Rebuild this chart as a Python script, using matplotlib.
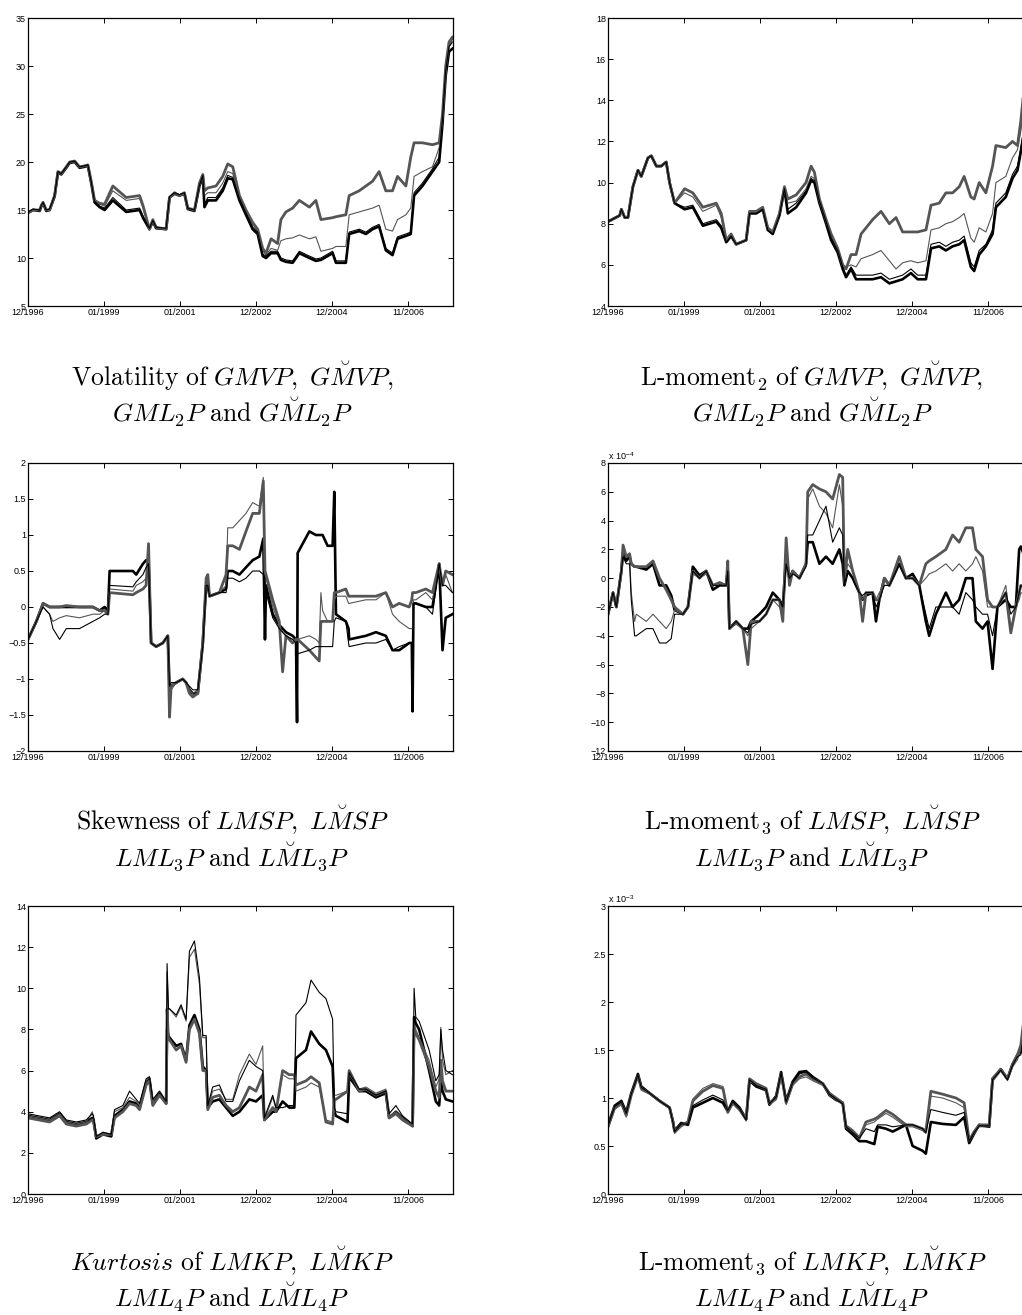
import matplotlib
matplotlib.use("Agg")
import matplotlib.pyplot as plt
from matplotlib.ticker import FuncFormatter

plt.rcParams['mathtext.fontset'] = 'cm'
plt.rcParams['font.family'] = ['Liberation Sans', 'DejaVu Sans']

# x axis: trading-day index, labelled with dates every 500 days
x_max = 2796
x_ticks = [0, 500, 1000, 1500, 2000, 2500]
x_labels = ['12/1996', '01/1999', '01/2001', '12/2002', '12/2004', '11/2006']

# ---- Panel 1: volatility -------------------------------------------------
vol_x = [0, 33, 77, 88, 99, 120, 142, 175, 197, 219, 252, 274, 307, 339, 372,
         394, 416, 438, 471, 504, 558, 646, 734, 756, 799, 821, 843, 909, 931, 964,
         996, 1029, 1051, 1095, 1128, 1150, 1161, 1183, 1237, 1281, 1314, 1347, 1391, 1434, 1478,
         1511, 1544, 1566, 1599, 1642, 1664, 1697, 1741, 1785, 1851, 1894, 1927, 2004, 2026, 2091,
         2113, 2179, 2223, 2267, 2310, 2354, 2398, 2431, 2486, 2518, 2540, 2595, 2661, 2705, 2727,
         2748, 2770, 2792]
vol_thick_black = [14.7, 15.0, 14.9, 15.4, 15.7, 14.9, 15.0, 16.4, 18.9, 18.7, 19.4, 19.9, 20.0, 19.4, 19.5,
                   19.6, 17.8, 15.8, 15.3, 15.0, 16.0, 14.8, 15.0, 14.2, 13.0, 13.8, 13.1, 13.0, 16.3, 16.7,
                   16.5, 16.7, 15.1, 14.9, 17.5, 18.5, 15.3, 16.0, 16.0, 17.0, 18.3, 18.2, 16.0, 14.5, 13.0,
                   12.5, 10.2, 10.0, 10.5, 10.5, 9.8, 9.6, 9.5, 10.5, 10.0, 9.7, 9.8, 10.5, 9.5, 9.5,
                   12.5, 12.8, 12.5, 13.0, 13.3, 10.8, 10.3, 12.0, 12.3, 12.5, 16.5, 17.5, 19.0, 20.0, 24.0,
                   29.0, 31.5, 31.8]
vol_thin_black = [14.8, 15.1, 15.0, 15.5, 15.8, 15.0, 15.1, 16.5, 19.0, 18.8, 19.5, 20.0, 20.1, 19.5, 19.6,
                  19.7, 17.9, 15.9, 15.4, 15.2, 16.3, 15.0, 15.2, 14.4, 13.1, 13.9, 13.2, 13.1, 16.4, 16.8,
                  16.6, 16.8, 15.2, 15.0, 17.6, 18.6, 15.6, 16.3, 16.3, 17.3, 18.6, 18.4, 16.2, 14.7, 13.2,
                  12.7, 10.4, 10.2, 10.7, 10.7, 10.0, 9.8, 9.7, 10.7, 10.2, 9.9, 10.0, 10.7, 9.7, 9.7,
                  12.7, 13.0, 12.7, 13.2, 13.5, 11.0, 10.5, 12.2, 12.5, 12.7, 16.8, 17.8, 19.3, 20.5, 24.5,
                  29.5, 32.0, 32.5]
vol_thick_gray = [14.7, 15.0, 15.0, 15.5, 15.8, 15.0, 15.0, 16.5, 19.0, 18.8, 19.5, 20.0, 20.1, 19.5, 19.6,
                  19.7, 18.0, 16.0, 15.7, 15.6, 17.5, 16.3, 16.5, 15.5, 13.0, 14.0, 13.2, 13.0, 16.3, 16.8,
                  16.5, 16.8, 15.2, 15.0, 17.8, 18.7, 17.0, 17.3, 17.5, 18.5, 19.8, 19.5, 16.5, 15.0, 13.7,
                  13.0, 11.0, 10.5, 12.0, 11.5, 14.0, 14.8, 15.2, 16.0, 15.3, 16.0, 14.0, 14.2, 14.3, 14.5,
                  16.5, 17.0, 17.5, 18.0, 19.0, 17.0, 17.0, 18.5, 17.5, 20.5, 22.0, 22.0, 21.8, 22.0, 25.0,
                  30.0, 32.5, 33.0]
vol_thin_gray = [14.7, 15.0, 15.0, 15.5, 15.8, 15.0, 15.0, 16.5, 19.0, 18.8, 19.5, 20.0, 20.1, 19.5, 19.6,
                 19.7, 18.0, 16.0, 15.6, 15.4, 17.0, 16.0, 16.2, 15.2, 13.0, 13.9, 13.2, 13.0, 16.3, 16.8,
                 16.5, 16.8, 15.2, 15.0, 17.6, 18.6, 16.5, 16.8, 16.8, 17.8, 19.0, 18.8, 16.2, 14.8, 13.5,
                 12.8, 10.8, 10.3, 11.0, 10.8, 11.8, 12.0, 12.1, 12.4, 12.0, 12.2, 10.7, 11.0, 11.2, 11.2,
                 14.5, 14.8, 15.0, 15.2, 15.5, 13.0, 12.8, 14.0, 14.5, 15.2, 18.5, 19.0, 19.5, 21.5, 24.5,
                 29.5, 32.0, 32.8]

# ---- Panel 2: L-moment 2 -------------------------------------------------
lm2_x = [0, 77, 88, 110, 131, 164, 197, 219, 263, 285, 318, 350, 383, 405, 438,
         504, 558, 624, 712, 745, 778, 810, 843, 909, 931, 975, 1018, 1051, 1084, 1128,
         1161, 1183, 1238, 1303, 1336, 1358, 1391, 1435, 1468, 1511, 1544, 1566, 1599, 1632, 1665,
         1741, 1796, 1851, 1895, 1938, 1993, 2037, 2092, 2125, 2179, 2223, 2267, 2311, 2343, 2387,
         2409, 2442, 2486, 2530, 2552, 2617, 2661, 2694, 2716, 2749, 2792]
lm2_thick_black = [8.1, 8.4, 8.7, 8.3, 8.3, 9.8, 10.6, 10.3, 11.2, 11.3, 10.8, 10.8, 11.0, 10.0, 9.0,
                   8.7, 8.8, 7.9, 8.1, 7.8, 7.1, 7.4, 7.0, 7.2, 8.5, 8.5, 8.7, 7.7, 7.5, 8.4,
                   9.7, 8.5, 8.8, 9.5, 10.1, 10.0, 9.0, 8.0, 7.2, 6.6, 5.8, 5.4, 5.8, 5.3, 5.3,
                   5.3, 5.4, 5.1, 5.2, 5.3, 5.6, 5.3, 5.3, 6.8, 6.9, 6.7, 6.9, 7.0, 7.2, 5.9,
                   5.7, 6.5, 6.9, 7.5, 8.8, 9.3, 10.2, 10.6, 11.5, 13.0, 14.0]
lm2_thin_black = [8.1, 8.4, 8.7, 8.3, 8.3, 9.8, 10.6, 10.3, 11.2, 11.3, 10.8, 10.8, 11.0, 10.0, 9.0,
                  8.8, 8.9, 8.0, 8.2, 7.9, 7.1, 7.4, 7.0, 7.2, 8.5, 8.5, 8.7, 7.7, 7.5, 8.4,
                  9.7, 8.7, 9.0, 9.6, 10.2, 10.1, 9.1, 8.1, 7.3, 6.7, 5.9, 5.5, 5.9, 5.5, 5.5,
                  5.5, 5.6, 5.3, 5.4, 5.5, 5.8, 5.5, 5.5, 7.0, 7.1, 6.9, 7.1, 7.2, 7.4, 6.1,
                  5.9, 6.7, 7.0, 7.7, 9.0, 9.5, 10.4, 10.8, 11.7, 13.2, 14.2]
lm2_thick_gray = [8.1, 8.4, 8.7, 8.3, 8.3, 9.8, 10.6, 10.3, 11.2, 11.3, 10.8, 10.8, 11.0, 10.0, 9.0,
                  9.7, 9.5, 8.8, 9.0, 8.5, 7.2, 7.5, 7.0, 7.2, 8.6, 8.6, 8.8, 7.8, 7.6, 8.5,
                  9.8, 9.2, 9.4, 10.0, 10.8, 10.5, 9.2, 8.2, 7.5, 6.8, 6.0, 5.8, 6.5, 6.5, 7.5,
                  8.2, 8.6, 8.0, 8.3, 7.6, 7.6, 7.6, 7.7, 8.9, 9.0, 9.5, 9.5, 9.8, 10.3, 9.3,
                  9.2, 10.0, 9.5, 10.8, 11.8, 11.7, 12.0, 11.8, 13.0, 15.5, 17.5]
lm2_thin_gray = [8.1, 8.4, 8.7, 8.3, 8.3, 9.8, 10.6, 10.3, 11.2, 11.3, 10.8, 10.8, 11.0, 10.0, 9.0,
                 9.5, 9.3, 8.6, 8.9, 8.3, 7.2, 7.5, 7.0, 7.2, 8.6, 8.6, 8.8, 7.8, 7.6, 8.5,
                 9.8, 9.0, 9.1, 9.7, 10.3, 10.2, 9.1, 8.1, 7.4, 6.7, 6.0, 5.9, 6.0, 5.9, 6.3,
                 6.5, 6.7, 6.2, 5.8, 6.1, 6.2, 6.1, 6.2, 7.7, 7.8, 8.0, 8.1, 8.3, 8.5, 7.3,
                 7.1, 7.8, 7.6, 8.5, 10.0, 10.3, 11.2, 11.6, 12.5, 14.5, 16.0]

# ---- Panel 3: skewness ---------------------------------------------------
skew_x = [0, 33, 55, 99, 142, 164, 208, 252, 339, 427, 471, 504, 526, 537, 690,
          712, 756, 777, 793, 810, 843, 887, 920, 931, 942, 975, 1018, 1040, 1062, 1084,
          1117, 1150, 1172, 1183, 1194, 1259, 1303, 1314, 1347, 1391, 1434, 1478, 1522, 1548, 1559,
          1566, 1610, 1653, 1675, 1697, 1741, 1763, 1770, 1774, 1851, 1894, 1916, 1927, 1938, 1971,
          2004, 2015, 2026, 2091, 2109, 2113, 2223, 2289, 2354, 2398, 2442, 2508, 2525, 2530, 2536,
          2552, 2617, 2661, 2705, 2727, 2748, 2792]
skew_thick_black = [-0.45, -0.3, -0.2, 0.05, 0.0, 0.0, 0.0, 0.0, 0.0, 0.0, -0.05, 0.0, -0.05, 0.5, 0.5,
                    0.45, 0.6, 0.65, 0.65, -0.5, -0.55, -0.5, -0.4, -1.1, -1.1, -1.05, -1.0, -1.05, -1.15, -1.2,
                    -1.2, -0.5, 0.3, 0.3, 0.15, 0.2, 0.25, 0.5, 0.5, 0.45, 0.55, 0.65, 0.7, 0.95, -0.45,
                    0.3, -0.1, -0.25, -0.3, -0.35, -0.4, -0.45, -1.6, 0.75, 1.05, 1.0, 1.0, 1.0, 1.0, 0.85,
                    0.85, 1.6, -0.1, -0.2, -0.3, -0.45, -0.4, -0.35, -0.4, -0.6, -0.6, -0.5, -0.5, -1.45, 0.05,
                    0.05, 0.0, 0.0, 0.6, -0.6, -0.15, -0.1]
skew_thin_black = [-0.45, -0.3, -0.2, 0.0, -0.1, -0.3, -0.45, -0.3, -0.3, -0.2, -0.15, -0.1, -0.1, 0.3, 0.28,
                   0.35, 0.45, 0.55, 0.6, -0.5, -0.55, -0.5, -0.4, -1.1, -1.05, -1.05, -1.0, -1.05, -1.1, -1.15,
                   -1.15, -0.55, 0.3, 0.3, 0.15, 0.2, 0.2, 0.4, 0.4, 0.35, 0.4, 0.5, 0.5, 0.45, 0.4,
                   0.2, -0.15, -0.3, -0.35, -0.4, -0.45, -0.5, -0.55, -0.65, -0.6, -0.55, -0.55, -0.55, -0.55, -0.55,
                   -0.55, -0.2, -0.15, -0.2, -0.5, -0.55, -0.5, -0.5, -0.45, -0.6, -0.55, -0.5, -0.5, -0.5, 0.05,
                   0.05, 0.0, -0.1, 0.6, 0.3, 0.3, 0.2]
skew_thick_gray = [-0.45, -0.3, -0.2, 0.05, 0.0, 0.0, 0.0, 0.02, 0.0, 0.0, -0.05, -0.05, -0.1, 0.2, 0.17,
                   0.2, 0.25, 0.3, 0.88, -0.5, -0.55, -0.5, -0.4, -1.53, -1.1, -1.05, -1.0, -1.05, -1.2, -1.25,
                   -1.2, -0.5, 0.4, 0.45, 0.15, 0.2, 0.45, 0.85, 0.85, 0.8, 1.05, 1.3, 1.3, 1.75, 0.5,
                   0.45, 0.1, -0.2, -0.9, -0.4, -0.5, -0.45, -0.45, -0.45, -0.6, -0.7, -0.75, -0.2, -0.2, -0.2,
                   -0.2, 0.2, 0.2, 0.25, 0.15, 0.15, 0.15, 0.15, 0.2, 0.0, 0.05, 0.0, 0.1, 0.2, 0.2,
                   0.2, 0.25, 0.2, 0.6, 0.3, 0.5, 0.45]
skew_thin_gray = [-0.45, -0.3, -0.2, 0.0, -0.1, -0.2, -0.15, -0.12, -0.15, -0.1, -0.1, -0.05, -0.1, 0.25, 0.22,
                  0.3, 0.35, 0.4, 0.6, -0.5, -0.55, -0.5, -0.4, -1.4, -1.15, -1.05, -1.0, -1.05, -1.15, -1.2,
                  -1.15, -0.5, 0.35, 0.4, 0.15, 0.2, 0.3, 1.1, 1.1, 1.2, 1.3, 1.45, 1.4, 1.8, 0.45,
                  0.4, 0.0, -0.25, -0.35, -0.4, -0.45, -0.45, -0.45, -0.45, -0.4, -0.45, -0.5, 0.2, -0.05, -0.2,
                  -0.2, 0.1, 0.15, 0.15, 0.05, 0.05, 0.1, 0.1, 0.2, -0.1, -0.2, -0.3, -0.3, -0.3, 0.1,
                  0.1, 0.2, 0.1, 0.6, 0.3, 0.45, 0.2]

# ---- Panel 4: L-moment 3 (x 1e-4) ----------------------------------------
lm3_x = [0, 11, 33, 55, 88, 99, 120, 142, 153, 175, 186, 252, 296, 339, 383,
         416, 438, 493, 526, 558, 602, 646, 690, 734, 777, 788, 799, 843, 887, 920,
         942, 996, 1040, 1084, 1128, 1150, 1172, 1194, 1215, 1259, 1303, 1314, 1347, 1391, 1434,
         1478, 1522, 1544, 1555, 1577, 1610, 1653, 1675, 1697, 1741, 1763, 1785, 1818, 1851, 1916,
         1960, 2004, 2048, 2091, 2113, 2157, 2223, 2267, 2310, 2354, 2398, 2420, 2464, 2497, 2530,
         2562, 2617, 2650, 2683, 2705, 2716, 2792]
lm3_thick_black = [-2.5, -2.0, -1.0, -2.0, 0.5, 1.8, 1.2, 1.5, 1.0, 0.8, 0.8, 0.6, 1.0, -0.5, -0.5,
                   -1.2, -2.2, -2.5, -2.0, 0.8, 0.2, 0.5, -0.8, -0.5, -0.5, 0.5, -3.5, -3.0, -3.5, -3.5,
                   -3.0, -2.5, -2.0, -1.0, -1.5, -2.0, 1.5, 0.0, 0.5, 0.0, 1.0, 2.5, 2.5, 1.0, 1.5,
                   1.0, 2.0, 1.0, -0.5, 0.5, 0.0, -1.0, -1.5, -1.2, -1.0, -3.0, -1.5, 0.0, -0.5, 1.0,
                   0.0, 0.3, -0.5, -3.0, -4.0, -2.5, -1.0, -2.0, -1.5, 0.0, 0.0, -3.0, -3.5, -3.0, -6.3,
                   -2.0, -1.5, -2.0, -2.0, 2.0, 2.2, 0.0]
lm3_thin_black = [-2.5, -2.0, -1.0, -2.0, 0.5, 1.5, 1.0, 1.0, -1.5, -4.0, -4.0, -3.5, -3.5, -4.5, -4.5,
                  -4.2, -2.5, -2.5, -2.0, 0.5, 0.0, 0.5, -0.5, -0.5, -0.5, 0.5, -3.5, -3.0, -3.5, -3.8,
                  -3.2, -3.0, -2.5, -1.5, -1.5, -2.0, 1.0, 0.0, 0.3, 0.0, 0.8, 3.0, 3.0, 4.0, 5.0,
                  2.5, 3.5, 3.0, -0.5, 0.5, 0.0, -1.0, -1.2, -1.0, -1.0, -2.0, -1.5, -0.5, -0.5, 1.0,
                  0.0, 0.0, -0.5, -2.5, -3.5, -2.0, -2.0, -2.0, -2.5, -1.0, -1.5, -2.0, -2.5, -2.5, -4.0,
                  -2.0, -1.0, -2.5, -2.0, -1.0, -0.5, -1.0]
lm3_thick_gray = [-2.5, -2.0, -1.0, -2.0, 0.5, 2.3, 1.5, 1.7, 1.0, 0.8, 0.8, 0.8, 1.2, 0.0, -0.8,
                  -1.5, -2.0, -2.5, -2.0, 0.5, 0.0, 0.5, -0.5, -0.3, -0.5, 1.2, -3.5, -3.0, -3.5, -6.0,
                  -3.0, -3.0, -2.5, -1.5, -1.5, -3.0, 2.8, -0.5, 0.5, 0.0, 1.0, 6.0, 6.5, 6.2, 6.0,
                  5.5, 7.2, 7.0, -0.3, 2.0, 0.5, -1.0, -3.0, -1.0, -1.0, -1.5, -1.5, 0.0, -0.5, 1.5,
                  0.0, 0.0, -0.5, 1.0, 1.2, 1.5, 2.0, 3.0, 2.5, 3.5, 3.5, 2.0, 1.5, -1.5, -2.0,
                  -2.0, -1.0, -3.8, -2.0, -1.0, -0.5, -1.0]
lm3_thin_gray = [-2.5, -2.0, -1.0, -2.0, 0.5, 2.0, 1.5, 1.5, -1.0, -3.0, -2.5, -3.0, -2.5, -3.0, -3.5,
                 -3.0, -2.2, -2.5, -2.0, 0.3, 0.0, 0.3, -0.5, -0.5, -0.5, 1.0, -3.5, -3.2, -3.5, -4.0,
                 -3.5, -3.0, -2.5, -1.5, -2.0, -2.5, 1.0, -0.5, 0.5, 0.0, 1.0, 5.5, 6.2, 5.0, 4.5,
                 3.5, 6.5, 5.0, -0.5, 1.0, 0.5, -1.0, -1.5, -1.0, -1.0, -1.5, -1.0, -0.5, -0.5, 1.0,
                 0.0, 0.0, -0.5, 0.0, 0.3, 0.5, 1.0, 0.5, 1.0, 0.5, 1.0, 1.5, 0.5, -2.0, -2.0,
                 -2.0, -0.5, -3.5, -2.0, -1.5, -1.0, -1.5]

# ---- Panel 5: kurtosis ---------------------------------------------------
kurt_x = [0, 142, 208, 252, 318, 383, 423, 431, 449, 493, 548, 569, 624, 668, 712,
          734, 777, 799, 821, 865, 909, 915, 924, 931, 975, 1007, 1040, 1062, 1095, 1128,
          1150, 1172, 1183, 1215, 1259, 1303, 1347, 1391, 1456, 1500, 1544, 1555, 1610, 1632, 1675,
          1719, 1752, 1763, 1829, 1862, 1916, 1960, 2004, 2015, 2026, 2102, 2113, 2179, 2223, 2289,
          2354, 2376, 2420, 2464, 2530, 2540, 2551, 2573, 2639, 2683, 2705, 2716, 2727, 2749, 2792]
kurt_thick_black = [3.8, 3.6, 3.9, 3.5, 3.4, 3.5, 3.7, 3.6, 2.7, 2.9, 2.8, 3.8, 4.1, 4.5, 4.4,
                    4.2, 5.4, 5.6, 4.4, 4.9, 4.4, 8.0, 7.7, 7.6, 7.2, 7.3, 6.5, 8.2, 8.7, 8.0,
                    6.2, 6.0, 4.2, 4.5, 4.6, 4.2, 3.8, 4.0, 4.6, 4.5, 4.8, 3.6, 4.0, 4.0, 4.5,
                    4.2, 4.2, 6.6, 7.0, 7.9, 7.3, 7.0, 6.2, 4.0, 3.8, 3.5, 5.7, 5.0, 5.0, 4.7,
                    4.9, 3.7, 4.0, 3.7, 3.3, 8.6, 8.3, 8.0, 6.0, 4.5, 4.3, 5.5, 5.0, 4.6, 4.5]
kurt_thin_black = [3.9, 3.7, 4.0, 3.6, 3.5, 3.6, 3.9, 3.8, 2.8, 3.0, 2.9, 4.1, 4.3, 5.0, 4.6,
                   4.4, 5.6, 5.7, 4.6, 5.0, 4.5, 11.2, 9.0, 9.0, 8.7, 9.2, 8.5, 11.8, 12.3, 10.5,
                   7.7, 7.7, 4.3, 5.2, 5.3, 4.5, 4.5, 5.5, 6.5, 6.2, 6.0, 3.7, 4.8, 4.2, 4.2,
                   4.3, 4.3, 8.7, 9.3, 10.4, 9.8, 9.5, 8.5, 4.2, 4.0, 3.9, 5.9, 5.1, 5.1, 4.8,
                   5.0, 3.9, 4.3, 3.8, 3.4, 10.0, 8.6, 8.4, 7.0, 5.5, 5.8, 8.0, 7.0, 6.0, 5.8]
kurt_thick_gray = [3.7, 3.5, 3.8, 3.4, 3.3, 3.4, 3.6, 3.5, 2.8, 2.9, 2.9, 3.7, 4.0, 4.4, 4.3,
                   4.1, 5.3, 5.5, 4.3, 4.8, 4.4, 9.0, 7.5, 7.5, 7.0, 7.2, 6.4, 8.0, 8.5, 7.8,
                   6.0, 6.0, 4.1, 4.7, 4.8, 4.3, 4.0, 4.2, 5.2, 5.0, 5.8, 3.6, 4.2, 4.0, 6.0,
                   5.8, 5.8, 5.3, 5.5, 5.7, 5.4, 3.5, 3.4, 4.6, 4.6, 5.0, 6.0, 5.0, 5.1, 4.8,
                   5.0, 3.7, 3.9, 3.6, 3.3, 8.0, 7.8, 7.5, 6.2, 5.0, 4.7, 6.5, 5.5, 5.0, 5.0]
kurt_thin_gray = [3.8, 3.6, 3.9, 3.5, 3.4, 3.5, 4.0, 3.7, 2.8, 3.0, 2.9, 4.0, 4.2, 4.7, 4.5,
                  4.3, 5.5, 5.7, 4.5, 5.0, 4.5, 10.8, 9.0, 9.0, 8.6, 9.1, 8.4, 11.5, 11.9, 10.2,
                  7.6, 7.6, 4.2, 5.0, 5.1, 4.6, 4.6, 5.8, 6.8, 6.3, 7.2, 3.6, 4.7, 4.1, 5.8,
                  5.6, 5.6, 5.0, 5.2, 5.4, 5.2, 3.6, 3.5, 4.8, 4.8, 5.0, 6.0, 5.1, 5.2, 4.9,
                  5.1, 3.8, 4.0, 3.7, 3.3, 8.3, 8.0, 7.6, 6.5, 5.2, 5.6, 8.1, 6.5, 5.8, 6.0]

# ---- Panel 6: L-moment (x 1e-3) ------------------------------------------
lm4_x = [0, 44, 88, 120, 153, 197, 219, 274, 339, 405, 427, 438, 482, 526, 558,
         624, 690, 756, 788, 821, 865, 909, 931, 975, 1040, 1062, 1106, 1139, 1172, 1215,
         1259, 1303, 1347, 1413, 1457, 1500, 1544, 1566, 1610, 1653, 1697, 1752, 1774, 1829, 1873,
         1960, 2004, 2070, 2091, 2124, 2201, 2289, 2343, 2376, 2409, 2442, 2508, 2530, 2584, 2628,
         2661, 2694, 2716, 2749, 2792]
lm4_thick_black = [0.72, 0.92, 0.97, 0.85, 1.05, 1.25, 1.12, 1.05, 0.97, 0.90, 0.76, 0.66, 0.74, 0.72, 0.90,
                   0.95, 1.00, 0.95, 0.86, 0.97, 0.90, 0.78, 1.18, 1.12, 1.08, 0.93, 1.02, 1.27, 0.97, 1.17,
                   1.27, 1.28, 1.22, 1.15, 1.03, 0.98, 0.95, 0.68, 0.62, 0.55, 0.55, 0.52, 0.70, 0.68, 0.65,
                   0.72, 0.50, 0.45, 0.42, 0.75, 0.73, 0.72, 0.80, 0.53, 0.63, 0.72, 0.70, 1.20, 1.30, 1.20,
                   1.35, 1.45, 1.48, 1.90, 2.30]
lm4_thin_black = [0.71, 0.91, 0.96, 0.84, 1.04, 1.24, 1.11, 1.05, 0.97, 0.90, 0.75, 0.65, 0.73, 0.73, 0.92,
                  0.98, 1.03, 0.98, 0.87, 0.96, 0.89, 0.77, 1.19, 1.13, 1.09, 0.94, 1.01, 1.26, 0.96, 1.16,
                  1.25, 1.27, 1.21, 1.15, 1.04, 0.99, 0.94, 0.70, 0.64, 0.58, 0.68, 0.65, 0.72, 0.72, 0.70,
                  0.72, 0.72, 0.68, 0.64, 0.88, 0.85, 0.82, 0.85, 0.55, 0.64, 0.71, 0.71, 1.19, 1.29, 1.19,
                  1.34, 1.43, 1.45, 1.85, 2.20]
lm4_thick_gray = [0.70, 0.90, 0.95, 0.82, 1.03, 1.23, 1.10, 1.05, 0.97, 0.90, 0.75, 0.65, 0.72, 0.75, 0.97,
                  1.07, 1.13, 1.10, 0.85, 0.95, 0.88, 0.78, 1.20, 1.15, 1.10, 0.95, 1.00, 1.25, 0.95, 1.15,
                  1.22, 1.25, 1.20, 1.15, 1.05, 1.00, 0.95, 0.70, 0.65, 0.58, 0.75, 0.78, 0.80, 0.87, 0.83,
                  0.72, 0.72, 0.68, 0.65, 1.07, 1.04, 1.00, 0.95, 0.56, 0.65, 0.72, 0.72, 1.20, 1.30, 1.20,
                  1.35, 1.45, 1.55, 2.00, 2.40]
lm4_thin_gray = [0.68, 0.88, 0.93, 0.80, 1.02, 1.22, 1.08, 1.04, 0.96, 0.89, 0.73, 0.63, 0.70, 0.74, 0.99,
                 1.10, 1.15, 1.12, 0.86, 0.94, 0.87, 0.76, 1.18, 1.13, 1.08, 0.93, 0.98, 1.22, 0.93, 1.13,
                 1.20, 1.22, 1.18, 1.13, 1.03, 0.98, 0.93, 0.72, 0.67, 0.60, 0.72, 0.75, 0.78, 0.84, 0.80,
                 0.70, 0.70, 0.66, 0.63, 1.02, 1.00, 0.95, 0.90, 0.55, 0.63, 0.70, 0.70, 1.17, 1.28, 1.18,
                 1.32, 1.40, 1.50, 1.90, 2.30]

captions = [
    (r'$\mathrm{Volatility\ of\ }GMVP,\ G\breve{M}VP,$', r'$GML_2P\ \mathrm{and}\ G\breve{M}L_2P$'),
    (r'$\mathrm{L\text{-}moment}_2\ \mathrm{of}\ GMVP,\ G\breve{M}VP,$', r'$GML_2P\ \mathrm{and}\ G\breve{M}L_2P$'),
    (r'$\mathrm{Skewness\ of\ }LMSP,\ L\breve{M}SP$', r'$LML_3P\ \mathrm{and}\ L\breve{M}L_3P$'),
    (r'$\mathrm{L\text{-}moment}_3\ \mathrm{of}\ LMSP,\ L\breve{M}SP$', r'$LML_3P\ \mathrm{and}\ L\breve{M}L_3P$'),
    (r'$\mathit{Kurtosis}\ \mathrm{of}\ LMKP,\ L\breve{M}KP$', r'$LML_4P\ \mathrm{and}\ L\breve{M}L_4P$'),
    (r'$\mathrm{L\text{-}moment}_3\ \mathrm{of}\ LMKP,\ L\breve{M}KP$', r'$LML_4P\ \mathrm{and}\ L\breve{M}L_4P$'),
]

W, H = 1022, 1315
fig = plt.figure(figsize=(W / 100, H / 100), dpi=100)

GRAY = '#555555'


def minus_fmt(v, pos):
    s = '%g' % v
    return s.replace('-', '\u2212')


def panel(left_px, top_px, x, tb, tnb, tg, tng, ylim, ystep, expo=None):
    ax = fig.add_axes([left_px / W, 1 - (top_px + 288) / H, 425 / W, 288 / H])
    ax.plot(x, tb, color='black', lw=1.9)
    ax.plot(x, tg, color=GRAY, lw=2.0)
    ax.plot(x, tng, color=GRAY, lw=0.8)
    ax.plot(x, tnb, color='black', lw=0.8)
    ax.set_xlim(0, x_max)
    ax.set_ylim(*ylim)
    ax.set_xticks(x_ticks)
    ax.set_xticklabels(x_labels)
    yt = []
    v = ylim[0]
    while v <= ylim[1] + 1e-9:
        yt.append(round(v, 6))
        v += ystep
    ax.set_yticks(yt)
    ax.yaxis.set_major_formatter(FuncFormatter(minus_fmt))
    ax.tick_params(direction='in', length=3.5, width=0.7, labelsize=6.5,
                   top=True, right=True, pad=1.5)
    for s in ax.spines.values():
        s.set_linewidth(0.9)
    if expo is not None:
        ax.text(0.0, 1.005, 'x 10$^{\\mathregular{%d}}$' % expo, transform=ax.transAxes,
                fontsize=6.5, ha='left', va='bottom')
    return ax


rows = [18, 463, 906]
cols = [28, 608]

panel(cols[0], rows[0], vol_x, vol_thick_black, vol_thin_black, vol_thick_gray, vol_thin_gray, (5, 35), 5)
panel(cols[1], rows[0], lm2_x, lm2_thick_black, lm2_thin_black, lm2_thick_gray, lm2_thin_gray, (4, 18), 2)
panel(cols[0], rows[1], skew_x, skew_thick_black, skew_thin_black, skew_thick_gray, skew_thin_gray, (-2, 2), 0.5)
panel(cols[1], rows[1], lm3_x, lm3_thick_black, lm3_thin_black, lm3_thick_gray, lm3_thin_gray, (-12, 8), 2, expo=-4)
panel(cols[0], rows[2], kurt_x, kurt_thick_black, kurt_thin_black, kurt_thick_gray, kurt_thin_gray, (0, 14), 2)
panel(cols[1], rows[2], lm4_x, lm4_thick_black, lm4_thin_black, lm4_thick_gray, lm4_thin_gray, (0, 3), 0.5, expo=-3)

# captions under each panel (baselines)
cap_y = [(386, 423), (830, 867), (1271, 1308)]
cap_x = [232, 812]
for i, (l1, l2) in enumerate(captions):
    r, c = divmod(i, 2)
    fig.text(cap_x[c] / W, 1 - cap_y[r][0] / H, l1, fontsize=18.5, ha='center', va='baseline')
    fig.text(cap_x[c] / W, 1 - cap_y[r][1] / H, l2, fontsize=18.5, ha='center', va='baseline')

fig.savefig('out.png', dpi=100)
